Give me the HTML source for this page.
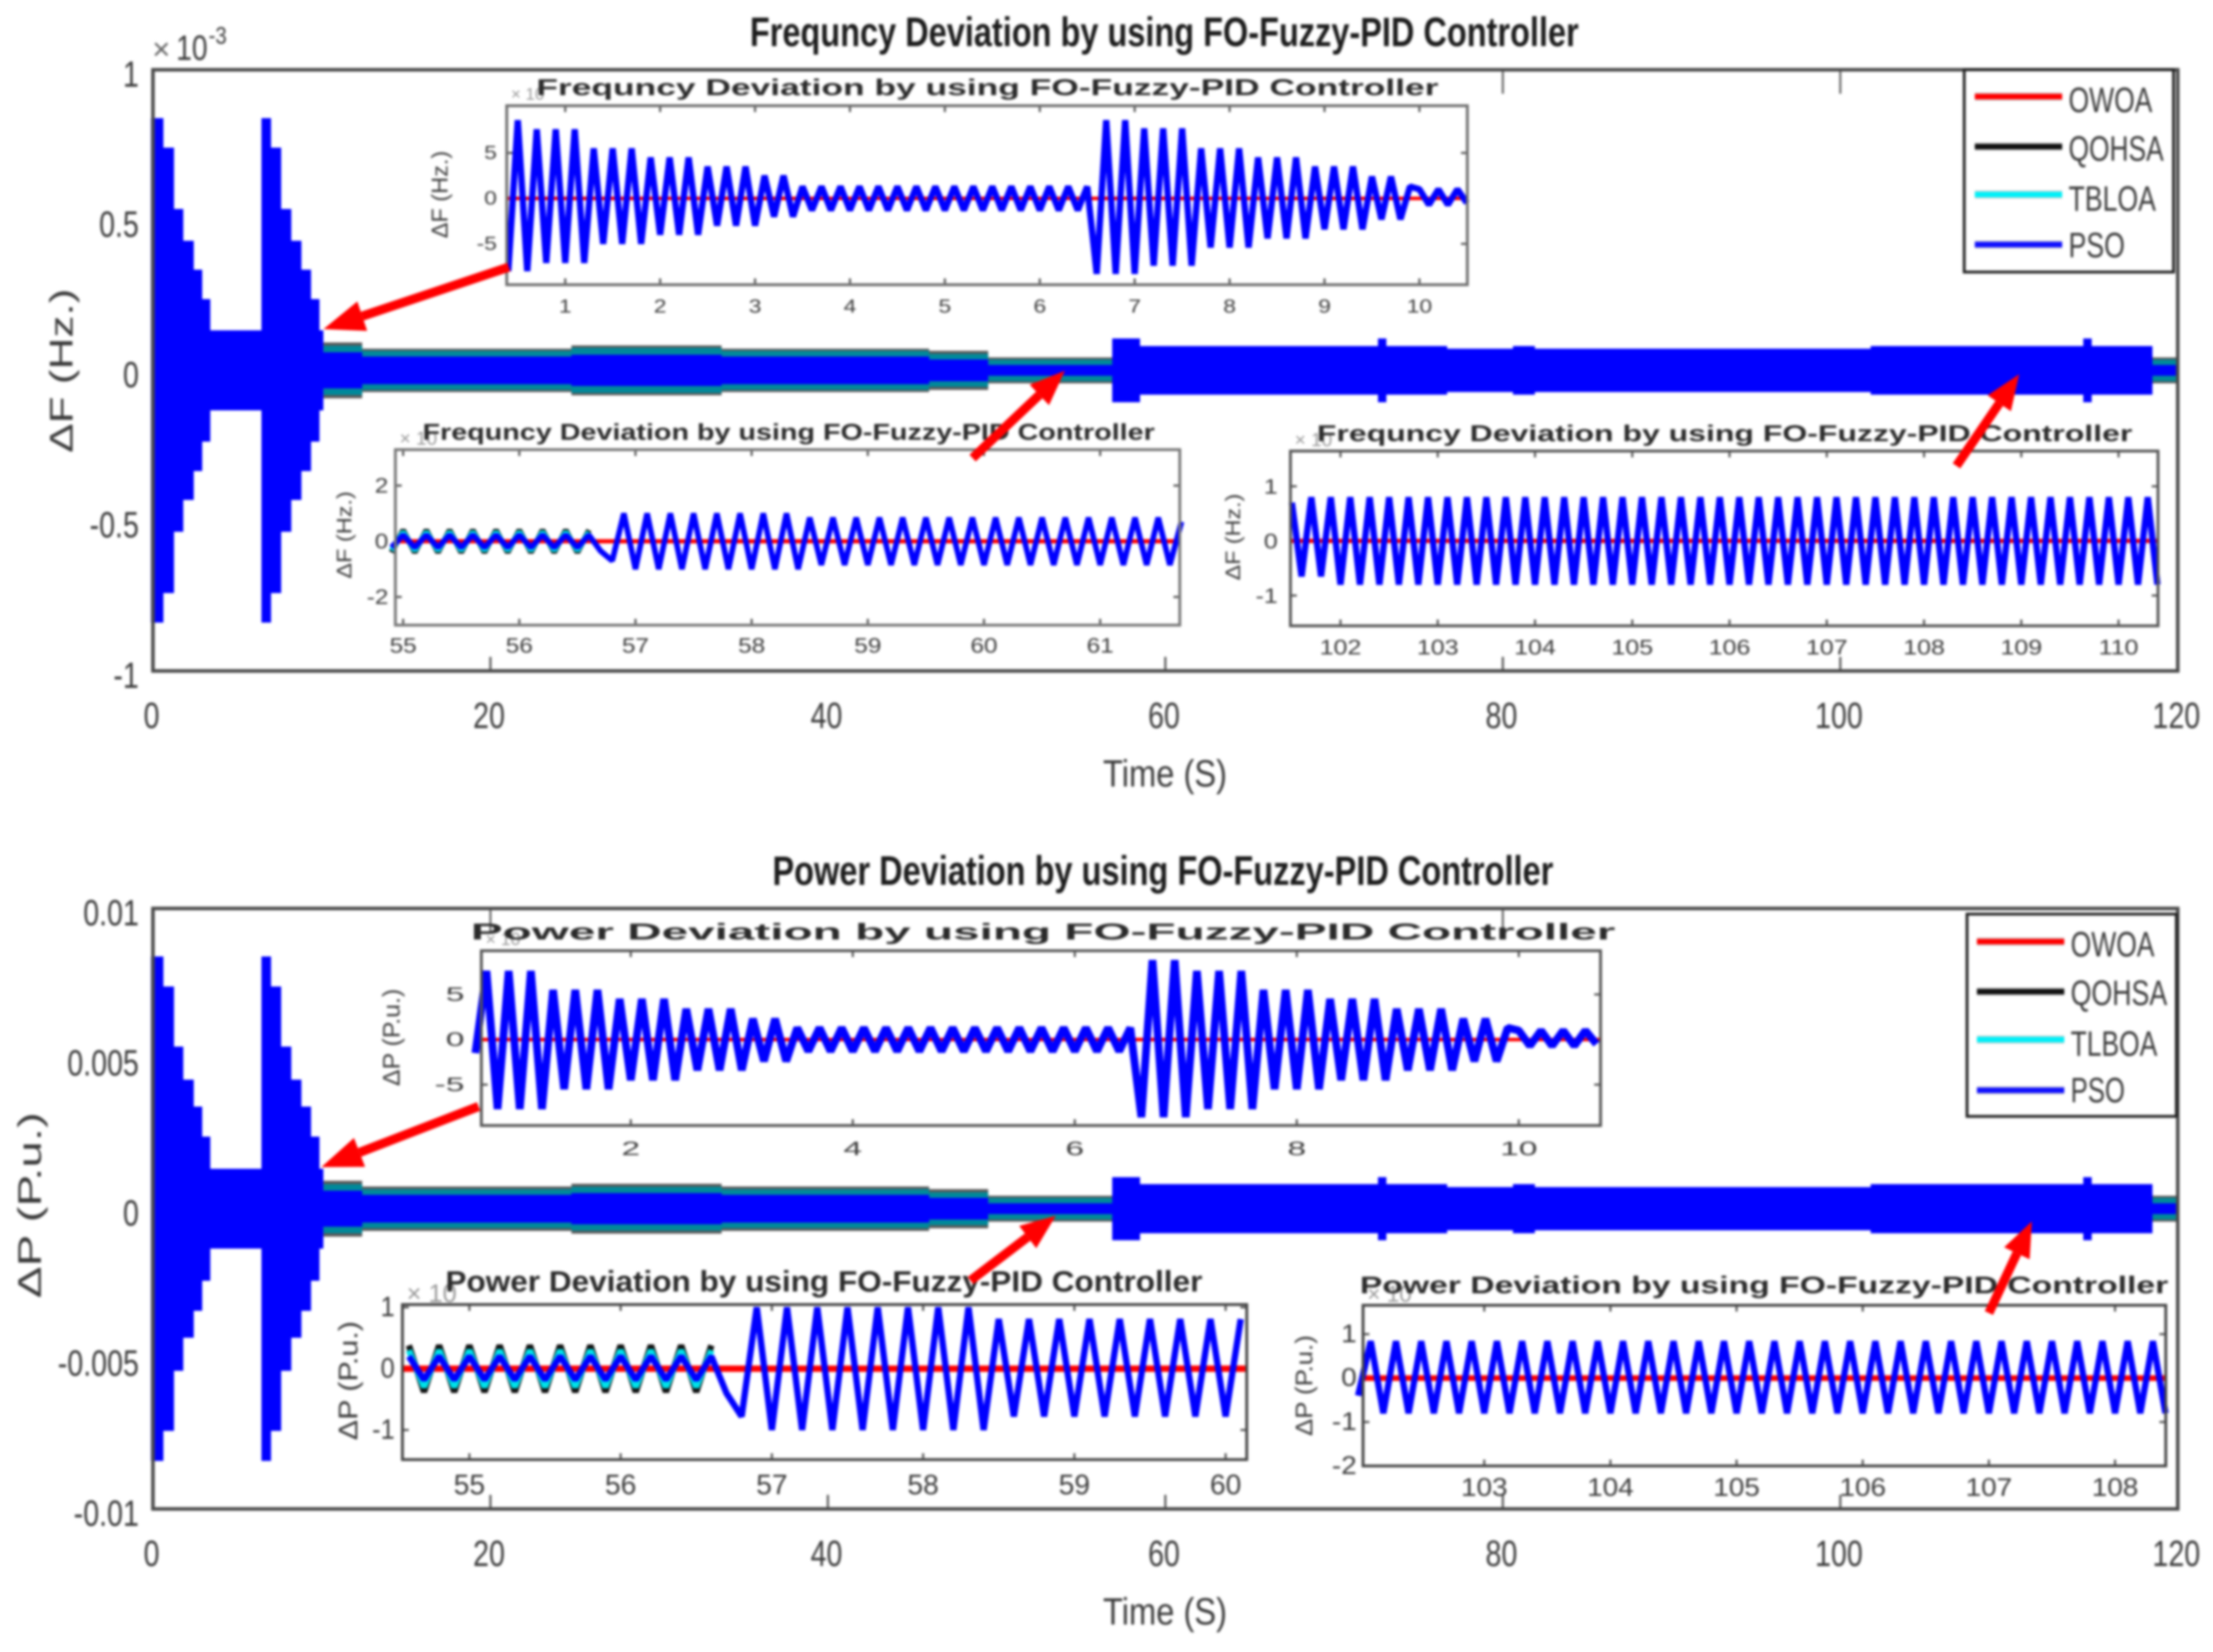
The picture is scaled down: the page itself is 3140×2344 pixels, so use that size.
<!DOCTYPE html>
<html lang="en">
<head>
<meta charset="utf-8">
<title>Frequency and Power Deviation by using FO-Fuzzy-PID Controller</title>
<style>
html,body{margin:0;padding:0;background:#fff;width:3140px;height:2344px;overflow:hidden}
svg{display:block;filter:blur(1.8px)}
text{font-family:"Liberation Sans",sans-serif;fill:#3a3a3a}
</style>
</head>
<body>
<svg id="figure" xmlns="http://www.w3.org/2000/svg" width="3140" height="2344" viewBox="0 0 3140 2344"></svg>
<script>
/* ---------- main chart data ---------- */
var mainXTicks = [0, 20, 40, 60, 80, 100, 120];
var freqYTicks = [1, 0.5, 0, -0.5, -1];
var freqYLabels = ['1', '0.5', '0', '-0.5', '-1'];
var powerYTicks = [0.01, 0.005, 0, -0.005, -0.01];
var powerYLabels = ['0.01', '0.005', '0', '-0.005', '-0.01'];
var legendFreq = ['OWOA', 'QOHSA', 'TBLOA', 'PSO'];
var legendPower = ['OWOA', 'QOHSA', 'TLBOA', 'PSO'];

/* envelope segment edges (s) shared by both main plots */
var segmentEdges = [-0.12, 0.62, 1.25, 1.8, 2.42, 2.92, 3.4, 6.43, 7.0, 7.6, 8.2, 8.8, 9.37, 9.87, 10.1, 12.4, 24.8, 33.7, 46, 49.5, 56.85, 58.5, 72.6, 73.1, 76.7, 80.6, 81.9, 101.8, 114.4, 114.9, 118.5, 120];
/* frequency envelope magnitudes, x 10^-3 Hz */
var freqPso = [0.839, 0.741, 0.537, 0.431, 0.335, 0.237, 0.133, 0.839, 0.741, 0.537, 0.431, 0.335, 0.237, 0.133, 0.06, 0.046, 0.052, 0.046, 0.036, 0.018, 0.106, 0.081, 0.106, 0.081, 0.072, 0.081, 0.072, 0.081, 0.106, 0.081, 0.018];
var freqTlboa = [0, 0, 0, 0, 0, 0, 0, 0, 0, 0, 0, 0, 0, 0, 0.082, 0.065, 0.075, 0.065, 0.055, 0.036, 0.05, 0.05, 0.05, 0.05, 0.05, 0.05, 0.05, 0.05, 0.05, 0.05, 0.036];
var freqQohsa = [0, 0, 0, 0, 0, 0, 0, 0, 0, 0, 0, 0, 0, 0, 0.093, 0.072, 0.083, 0.072, 0.065, 0.043, 0.05, 0.05, 0.05, 0.05, 0.05, 0.05, 0.05, 0.05, 0.05, 0.05, 0.043];
/* power envelope magnitudes, P.u. */
var powerPso = [0.0084, 0.0074, 0.0054, 0.0043, 0.0034, 0.0024, 0.00133, 0.0084, 0.0074, 0.0054, 0.0043, 0.0034, 0.0024, 0.00133, 0.0006, 0.00046, 0.00052, 0.00046, 0.00036, 0.00018, 0.00105, 0.00082, 0.00105, 0.00082, 0.00072, 0.00082, 0.00072, 0.00082, 0.00105, 0.00082, 0.00018];
var powerTlboa = [0, 0, 0, 0, 0, 0, 0, 0, 0, 0, 0, 0, 0, 0, 0.00082, 0.00065, 0.00073, 0.00065, 0.00055, 0.00036, 0.0005, 0.0005, 0.0005, 0.0005, 0.0005, 0.0005, 0.0005, 0.0005, 0.0005, 0.0005, 0.00036];
var powerQohsa = [0, 0, 0, 0, 0, 0, 0, 0, 0, 0, 0, 0, 0, 0, 0.00093, 0.00074, 0.00083, 0.00074, 0.00065, 0.00043, 0.0005, 0.0005, 0.0005, 0.0005, 0.0005, 0.0005, 0.0005, 0.0005, 0.0005, 0.0005, 0.00043];

/* ---------- inset data: turning points, first time + step ---------- */
var inset1aXTicks = [1, 2, 3, 4, 5, 6, 7, 8, 9, 10];
var inset1aYTicks = [5, 0, -5];
var inset1aStart = 0.4;
var inset1aStep = 0.1;
var inset1aPso = [-8, 8.6, -8, 7.6, -7.1, 7.6, -7.1, 7.6, -7.1, 5.5, -5, 5.5, -5, 5.5, -5, 4.5, -4, 4.5, -4, 4.5, -4, 3.5, -3, 3.5, -3, 3.5, -3, 2.5, -2, 2.5, -2, 1.3, -1.3, 1.3, -1.3, 1.3, -1.3, 1.3, -1.3, 1.3, -1.3, 1.3, -1.3, 1.3, -1.3, 1.3, -1.3, 1.3, -1.3, 1.3, -1.3, 1.3, -1.3, 1.3, -1.3, 1.3, -1.3, 1.3, -1.3, 1.3, -1.3, 1.3, -8.3, 8.6, -8.3, 8.6, -8.3, 7.7, -7.4, 7.7, -7.4, 7.7, -7.4, 5.5, -5.4, 5.5, -5.4, 5.5, -5.4, 4.5, -4.4, 4.5, -4.4, 4.5, -4.4, 3.5, -3.4, 3.5, -3.4, 3.5, -3.4, 2.4, -2.3, 2.4, -2.3, 1.3, 1, -0.7, 1, -0.7, 1, -0.5];

var inset1bXTicks = [55, 56, 57, 58, 59, 60, 61];
var inset1bYTicks = [2, 0, -2];
var inset1bStart = 54.9;
var inset1bStep = 0.1;
var inset1bPso = [-0.22, 0.22, -0.22, 0.22, -0.22, 0.22, -0.22, 0.22, -0.22, 0.22, -0.22, 0.22, -0.22, 0.22, -0.22, 0.22, -0.22, 0.22, -0.35, -0.7, 1, -1, 1, -1, 1, -1, 1, -1, 1, -1, 1, -1, 1, -1, 1, -1, 0.85, -0.85, 0.85, -0.85, 0.85, -0.85, 0.85, -0.85, 0.85, -0.85, 0.85, -0.85, 0.85, -0.85, 0.85, -0.85, 0.85, -0.85, 0.85, -0.85, 0.85, -0.85, 0.85, -0.85, 0.85, -0.85, 0.85, -0.85, 0.85, -0.85, 0.85, -0.85, 0.7];
var inset1bTlboa = [-0.33, 0.33, -0.33, 0.33, -0.33, 0.33, -0.33, 0.33, -0.33, 0.33, -0.33, 0.33, -0.33, 0.33, -0.33, 0.33, -0.33, 0.33];
var inset1bQohsa = [-0.4, 0.4, -0.4, 0.4, -0.4, 0.4, -0.4, 0.4, -0.4, 0.4, -0.4, 0.4, -0.4, 0.4, -0.4, 0.4, -0.4, 0.4];

var inset1cXTicks = [102, 103, 104, 105, 106, 107, 108, 109, 110];
var inset1cYTicks = [1, 0, -1];
var inset1cStart = 101.5;
var inset1cStep = 0.1;
var inset1cPso = [0.7, -0.65, 0.8, -0.65, 0.8, -0.8, 0.8, -0.8, 0.8, -0.8, 0.8, -0.8, 0.8, -0.8, 0.8, -0.8, 0.8, -0.8, 0.8, -0.8, 0.8, -0.8, 0.8, -0.8, 0.8, -0.8, 0.8, -0.8, 0.8, -0.8, 0.8, -0.8, 0.8, -0.8, 0.8, -0.8, 0.8, -0.8, 0.8, -0.8, 0.8, -0.8, 0.8, -0.8, 0.8, -0.8, 0.8, -0.8, 0.8, -0.8, 0.8, -0.8, 0.8, -0.8, 0.8, -0.8, 0.8, -0.8, 0.8, -0.8, 0.8, -0.8, 0.8, -0.8, 0.8, -0.8, 0.8, -0.8, 0.8, -0.8, 0.8, -0.8, 0.8, -0.8, 0.8, -0.8, 0.8, -0.8, 0.8, -0.8, 0.8, -0.8, 0.8, -0.8, 0.8, -0.8, 0.8, -0.8, 0.8, -0.8];

var inset2aXTicks = [2, 4, 6, 8, 10];
var inset2aYTicks = [5, 0, -5];
var inset2aStart = 0.6;
var inset2aStep = 0.1;
var inset2aPso = [-1.5, 7.6, -7.7, 7.6, -7.7, 7.6, -7.7, 5.5, -5.5, 5.5, -5.5, 5.5, -5.5, 4.5, -4.5, 4.5, -4.5, 4.5, -4.5, 3.4, -3.4, 3.4, -3.4, 3.4, -3.4, 2.3, -2.4, 2.3, -2.4, 1.3, -1.3, 1.3, -1.3, 1.3, -1.3, 1.3, -1.3, 1.3, -1.3, 1.3, -1.3, 1.3, -1.3, 1.3, -1.3, 1.3, -1.3, 1.3, -1.3, 1.3, -1.3, 1.3, -1.3, 1.3, -1.3, 1.3, -1.3, 1.3, -1.3, 1.3, -8.6, 8.8, -8.6, 8.8, -8.6, 7.6, -7.7, 7.6, -7.7, 7.6, -7.7, 5.5, -5.5, 5.5, -5.5, 5.5, -5.5, 4.5, -4.5, 4.5, -4.5, 4.5, -4.5, 3.4, -3.4, 3.4, -3.4, 3.4, -3.4, 2.3, -2.4, 2.3, -2.4, 1.3, 1, -0.7, 1, -0.7, 1, -0.7, 1, -0.5];

var inset2bXTicks = [55, 56, 57, 58, 59, 60];
var inset2bYTicks = [1, 0, -1];
var inset2bStart = 54.6;
var inset2bStep = 0.1;
var inset2bPso = [0.2, -0.18, 0.2, -0.18, 0.2, -0.18, 0.2, -0.18, 0.2, -0.18, 0.2, -0.18, 0.2, -0.18, 0.2, -0.18, 0.2, -0.18, 0.2, -0.18, 0.2, -0.4, -0.78, 1, -1, 1, -1, 1, -1, 1, -1, 1, -1, 1, -1, 1, -1, 1, -1, 0.81, -0.78, 0.81, -0.78, 0.81, -0.78, 0.81, -0.78, 0.81, -0.78, 0.81, -0.78, 0.81, -0.78, 0.81, -0.78, 0.81];
var inset2bTlboa = [0.3, -0.3, 0.3, -0.3, 0.3, -0.3, 0.3, -0.3, 0.3, -0.3, 0.3, -0.3, 0.3, -0.3, 0.3, -0.3, 0.3, -0.3, 0.3, -0.3, 0.3];
var inset2bQohsa = [0.38, -0.38, 0.38, -0.38, 0.38, -0.38, 0.38, -0.38, 0.38, -0.38, 0.38, -0.38, 0.38, -0.38, 0.38, -0.38, 0.38, -0.38, 0.38, -0.38, 0.38];

var inset2cXTicks = [103, 104, 105, 106, 107, 108];
var inset2cYTicks = [1, 0, -1, -2];
var inset2cStart = 102.0;
var inset2cStep = 0.1;
var inset2cPso = [-0.4, 0.84, -0.8, 0.84, -0.8, 0.84, -0.8, 0.84, -0.8, 0.84, -0.8, 0.84, -0.8, 0.84, -0.8, 0.84, -0.8, 0.84, -0.8, 0.84, -0.8, 0.84, -0.8, 0.84, -0.8, 0.84, -0.8, 0.84, -0.8, 0.84, -0.8, 0.84, -0.8, 0.84, -0.8, 0.84, -0.8, 0.84, -0.8, 0.84, -0.8, 0.84, -0.8, 0.84, -0.8, 0.84, -0.8, 0.84, -0.8, 0.84, -0.8, 0.84, -0.8, 0.84, -0.8, 0.84, -0.8, 0.84, -0.8, 0.84, -0.8, 0.84, -0.8, 0.84, -0.8];

/* ---------- drawing helpers ---------- */
var SVGNS = 'http://www.w3.org/2000/svg';
var root = document.getElementById('figure');

function make(tag, attrs, parent) {
  var el = document.createElementNS(SVGNS, tag);
  for (var k in attrs) { el.setAttribute(k, attrs[k]); }
  (parent || root).appendChild(el);
  return el;
}
function tag(el, name) {
  
  
  return el;
}
function linear(d0, d1, r0, r1) {
  return function (v) { return r0 + (v - d0) * (r1 - r0) / (d1 - d0); };
}
function text(parent, name, str, x, y, size, opts) {
  opts = opts || {};
  var sx = opts.sx || 1;
  var rot = opts.rot ? ' rotate(' + opts.rot + ')' : '';
  var attrs = {
    transform: 'translate(' + x + ',' + y + ')' + rot + ' scale(' + sx + ',1)',
    'font-size': size,
    'text-anchor': opts.anchor || 'middle',
    'dominant-baseline': 'central'
  };
  if (opts.bold) { attrs['font-weight'] = 'bold'; }
  if (opts.fill) { attrs['style'] = 'fill:' + opts.fill; }
  if (opts.width) {
    attrs['textLength'] = opts.width;
    attrs['lengthAdjust'] = 'spacingAndGlyphs';
  }
  var t = make('text', attrs, parent);
  t.textContent = str;
  tag(t, name);
  return t;
}
function envelope(parent, name, edges, mags, fill, xs, ys, zero) {
  var top = '', bottom = '';
  for (var i = 0; i < mags.length; i++) {
    top += xs(edges[i]) + ',' + ys(zero + mags[i]) + ' ' + xs(edges[i + 1]) + ',' + ys(zero + mags[i]) + ' ';
    bottom = xs(edges[i + 1]) + ',' + ys(zero - mags[i]) + ' ' + xs(edges[i]) + ',' + ys(zero - mags[i]) + ' ' + bottom;
  }
  var p = make('polygon', { points: top + bottom, fill: fill }, parent);
  tag(p, name);
  return p;
}
function series(parent, name, start, step, values, color, width, xs, ys) {
  var pts = '';
  for (var i = 0; i < values.length; i++) {
    pts += xs(start + i * step) + ',' + ys(values[i]) + ' ';
  }
  var p = make('polyline', { points: pts, fill: 'none', stroke: color, 'stroke-width': width, 'stroke-linejoin': 'bevel' }, parent);
  tag(p, name);
  return p;
}
function line(parent, name, x1, y1, x2, y2, color, width) {
  var l = make('line', { x1: x1, y1: y1, x2: x2, y2: y2, stroke: color, 'stroke-width': width }, parent);
  tag(l, name);
  return l;
}
function arrow(name, x1, y1, x2, y2, width, headLen, headWidth) {
  var g = make('g', {});
  tag(g, name);
  var dx = x2 - x1, dy = y2 - y1, len = Math.sqrt(dx * dx + dy * dy);
  var ux = dx / len, uy = dy / len, bx = x2 - ux * headLen, by = y2 - uy * headLen;
  line(g, name + '-shaft', x1, y1, bx, by, '#ff0000', width);
  var head = make('polygon', {
    points: x2 + ',' + y2 + ' ' + (bx - uy * headWidth / 2) + ',' + (by + ux * headWidth / 2) + ' ' + (bx + uy * headWidth / 2) + ',' + (by - ux * headWidth / 2),
    fill: '#ff0000'
  }, g);
  tag(head, name + '-head');
}

/* ---------- main plot ---------- */
function drawMain(o) {
  var g = make('g', {});
  tag(g, o.id + '-plot');
  var xs = linear(0, 120, 217, 3090);
  var ys = linear(o.yMax, -o.yMax, o.top, o.bottom);

  o.topTicks.forEach(function (t) {
    line(g, o.id + '-top-tick', xs(t), o.top, xs(t), o.top + 34, '#666', 3);
  });
  o.bottomTicks.forEach(function (t) {
    line(g, o.id + '-bottom-tick', xs(t), o.bottom, xs(t), o.bottom - 20, '#555', 3);
  });

  envelope(g, o.id + '-qohsa-envelope', segmentEdges, o.qohsa, '#5a5a5a', xs, ys, 0);
  envelope(g, o.id + '-tlboa-envelope', segmentEdges, o.tlboa, '#00899a', xs, ys, 0);
  envelope(g, o.id + '-pso-envelope', segmentEdges, o.pso, '#0000ff', xs, ys, 0);

  var frame = make('rect', { x: 217, y: o.top, width: 2873, height: o.bottom - o.top, fill: 'none', stroke: '#4a4a4a', 'stroke-width': 5 }, g);
  tag(frame, o.id + '-axes-frame');

  mainXTicks.forEach(function (t) {
    text(g, o.id + '-x-tick-label', String(t), xs(t) - 2, o.bottom + 63, 52, { sx: 0.78 });
  });
  o.yTicks.forEach(function (v, i) {
    text(g, o.id + '-y-tick-label', o.yLabels[i], 197, ys(v) + 6, 52, { sx: 0.78, anchor: 'end' });
  });
  text(g, o.id + '-x-axis-title', 'Time (S)', 1653, o.bottom + 146, 54, { width: 176 });
  text(g, o.id + '-y-axis-title', o.yTitle, o.yTitleX, o.yTitleY, 46, { rot: -90, width: o.yTitleW });
  text(g, o.id + '-title', o.title, o.titleX, o.titleY, 58, { bold: true, width: o.titleW, fill: '#1c1c1c' });
}

/* ---------- inset ---------- */
function drawInset(o) {
  var g = make('g', {});
  tag(g, o.id + '-inset');
  var xs = linear(o.dx[0], o.dx[1], o.rx[0], o.rx[1]);
  var ys = linear(o.dy[0], o.dy[1], o.ry[0], o.ry[1]);
  var bg = make('rect', { x: o.x0, y: o.y0, width: o.x1 - o.x0, height: o.y1 - o.y0, fill: '#fff' }, g);
  tag(bg, o.id + '-background');

  o.xTicks.forEach(function (t) {
    line(g, o.id + '-x-tick', xs(t), o.y1, xs(t), o.y1 - 9, '#555', 3);
    line(g, o.id + '-x-tick-top', xs(t), o.y0, xs(t), o.y0 + 9, '#555', 3);
    text(g, o.id + '-x-tick-label', String(t), xs(t), o.xLabelY, o.fs, { sx: o.sx });
  });
  o.yTicks.forEach(function (v) {
    line(g, o.id + '-y-tick', o.x0, ys(v), o.x0 + 9, ys(v), '#555', 3);
    line(g, o.id + '-y-tick-right', o.x1, ys(v), o.x1 - 9, ys(v), '#555', 3);
    text(g, o.id + '-y-tick-label', String(v), o.yLabelX, ys(v), o.fs, { sx: o.sxY || o.sx, anchor: 'end' });
  });

  var red = line(g, o.id + '-owoa-line', xs(o.dxStart), ys(0), xs(o.dxEnd), ys(0), '#ff0000', o.redW);
  red.setAttribute('stroke-linecap', 'butt');
  if (o.qohsa) { series(g, o.id + '-qohsa-line', o.start, o.step, o.qohsa, '#111111', o.lw, xs, ys); }
  if (o.tlboa) { series(g, o.id + '-tlboa-line', o.start, o.step, o.tlboa, '#00e0e8', o.lw, xs, ys); }
  series(g, o.id + '-pso-line', o.start, o.step, o.pso, '#0000ff', o.lw, xs, ys);

  var frame = make('rect', { x: o.x0, y: o.y0, width: o.x1 - o.x0, height: o.y1 - o.y0, fill: 'none', stroke: o.frame, 'stroke-width': 4 }, g);
  tag(frame, o.id + '-frame');

  text(g, o.id + '-exponent', '\u00d7 10', o.x0 + 6, o.y0 - 16, Math.round(o.fs * 0.9), { anchor: 'start', fill: '#999' });
  text(g, o.id + '-y-axis-title', o.yTitle, o.yTitleX, o.yTitleY, o.yTitleSize, { rot: -90, width: o.yTitleW });
  text(g, o.id + '-title', o.title, o.titleX, o.titleY, o.titleSize, { bold: true, width: o.titleW, fill: '#2a2a2a' });
}

/* ---------- legend ---------- */
function drawLegend(id, names, box, lineX, lineYs, textX, textYs, textWs) {
  var g = make('g', {});
  tag(g, id);
  var r = make('rect', { x: box[0], y: box[1], width: box[2] - box[0], height: box[3] - box[1], fill: '#fff', stroke: '#222', 'stroke-width': 4 }, g);
  tag(r, id + '-box');
  var colors = ['#ff0000', '#111111', '#00f0f8', '#1010ff'];
  names.forEach(function (n, i) {
    var halo = line(g, id + '-swatch-halo', lineX[0], lineYs[i], lineX[1], lineYs[i], '#bbbbbb', 12);
    halo.setAttribute('opacity', '0.6');
    line(g, id + '-swatch-' + n.toLowerCase(), lineX[0], lineYs[i], lineX[1], lineYs[i], colors[i], 8);
    text(g, id + '-label-' + n.toLowerCase(), n, textX, textYs[i], 50, { anchor: 'start', width: textWs[i] });
  });
}

var freqTitle = 'Frequncy Deviation by using FO-Fuzzy-PID Controller';
var powerTitle = 'Power Deviation by using FO-Fuzzy-PID Controller';

drawMain({
  id: 'frequency', top: 99, bottom: 952, yMax: 1, pso: freqPso, tlboa: freqTlboa, qohsa: freqQohsa,
  yTicks: freqYTicks, yLabels: freqYLabels, yTitle: '\u0394F (Hz.)', yTitleX: 87, yTitleY: 526, yTitleW: 233,
  title: freqTitle, titleX: 1652, titleY: 46, titleW: 1176, topTicks: [80, 100], bottomTicks: [20, 60, 80, 100]
});
drawMain({
  id: 'power', top: 1289, bottom: 2141, yMax: 0.01, pso: powerPso, tlboa: powerTlboa, qohsa: powerQohsa,
  yTicks: powerYTicks, yLabels: powerYLabels, yTitle: '\u0394P  (P.u.)', yTitleX: 42, yTitleY: 1710, yTitleW: 264,
  title: powerTitle, titleX: 1650, titleY: 1236, titleW: 1108, topTicks: [20, 80], bottomTicks: [20, 40, 60, 80, 100]
});

var expF = make('g', {});
tag(expF, 'frequency-exponent');
text(expF, 'exponent-times', '\u00d7', 216, 70, 44, { anchor: 'start', fill: '#666' });
text(expF, 'exponent-base', '10', 250, 68, 50, { anchor: 'start', sx: 0.8 });
text(expF, 'exponent-power', '-3', 296, 50, 34, { anchor: 'start', sx: 0.85 });

drawInset({
  id: 'freq-early', x0: 719, x1: 2082, y0: 150, y1: 404, dx: [1, 10], rx: [802, 2014], dy: [5, -5], ry: [217, 346],
  xTicks: inset1aXTicks, yTicks: inset1aYTicks, start: inset1aStart, step: inset1aStep, pso: inset1aPso,
  dxStart: 0.38, dxEnd: 10.5, lw: 9, redW: 5, frame: '#6e6e6e', fs: 27, sx: 1.2, xLabelY: 435, yLabelX: 705,
  yTitle: '\u0394F (Hz.)', yTitleX: 624, yTitleY: 276, yTitleW: 124, yTitleSize: 32,
  title: freqTitle, titleX: 1401, titleY: 124, titleW: 1280, titleSize: 32
});
drawInset({
  id: 'freq-mid', x0: 561, x1: 1674, y0: 638, y1: 887, dx: [55, 61], rx: [572, 1561], dy: [2, -2], ry: [689, 847],
  xTicks: inset1bXTicks, yTicks: inset1bYTicks, start: inset1bStart, step: inset1bStep, pso: inset1bPso, tlboa: inset1bTlboa, qohsa: inset1bQohsa,
  dxStart: 54.93, dxEnd: 61.69, lw: 8, redW: 6, frame: '#777', fs: 30, sx: 1.15, xLabelY: 916, yLabelX: 551,
  yTitle: '\u0394F (Hz.)', yTitleX: 489, yTitleY: 759, yTitleW: 124, yTitleSize: 30,
  title: freqTitle, titleX: 1119, titleY: 613, titleW: 1039, titleSize: 32
});
drawInset({
  id: 'freq-late', x0: 1831, x1: 3062, y0: 640, y1: 888, dx: [102, 110], rx: [1902, 3006], dy: [1, -1], ry: [690, 845],
  xTicks: inset1cXTicks, yTicks: inset1cYTicks, start: inset1cStart, step: inset1cStep, pso: inset1cPso,
  dxStart: 101.5, dxEnd: 110.4, lw: 9, redW: 6, frame: '#555', fs: 30, sx: 1.18, xLabelY: 918, yLabelX: 1813,
  yTitle: '\u0394F (Hz.)', yTitleX: 1750, yTitleY: 762, yTitleW: 123, yTitleSize: 30,
  title: freqTitle, titleX: 2447, titleY: 615, titleW: 1157, titleSize: 32
});
drawInset({
  id: 'power-early', x0: 683, x1: 2271, y0: 1349, y1: 1597, dx: [2, 10], rx: [895, 2155], dy: [5, -5], ry: [1411, 1539],
  xTicks: inset2aXTicks, yTicks: inset2aYTicks, start: inset2aStart, step: inset2aStep, pso: inset2aPso,
  dxStart: 0.65, dxEnd: 10.74, lw: 11, redW: 5, frame: '#555', fs: 28, sx: 1.7, xLabelY: 1630, yLabelX: 659,
  yTitle: '\u0394P (P.u.)', yTitleX: 556, yTitleY: 1472, yTitleW: 138, yTitleSize: 34,
  title: powerTitle, titleX: 1480, titleY: 1322, titleW: 1624, titleSize: 32
});
drawInset({
  id: 'power-mid', x0: 571, x1: 1769, y0: 1851, y1: 2071, dx: [55, 60], rx: [666, 1739], dy: [1, -1], ry: [1855, 2029],
  xTicks: inset2bXTicks, yTicks: inset2bYTicks, start: inset2bStart, step: inset2bStep, pso: inset2bPso, tlboa: inset2bTlboa, qohsa: inset2bQohsa,
  dxStart: 54.56, dxEnd: 60.13, lw: 9, redW: 9, frame: '#444', fs: 40, sx: 1, sxY: 0.9, xLabelY: 2107, yLabelX: 560,
  yTitle: '\u0394P (P.u.)', yTitleX: 495, yTitleY: 1959, yTitleW: 169, yTitleSize: 38,
  title: powerTitle, titleX: 1169, titleY: 1818, titleW: 1074, titleSize: 42
});
drawInset({
  id: 'power-late', x0: 1934, x1: 3073, y0: 1852, y1: 2080, dx: [103, 108], rx: [2106, 3001], dy: [1, -2], ry: [1893, 2080],
  xTicks: inset2cXTicks, yTicks: inset2cYTicks, start: inset2cStart, step: inset2cStep, pso: inset2cPso,
  dxStart: 102.04, dxEnd: 108.4, lw: 9, redW: 8, frame: '#444', fs: 36, sx: 1.1, xLabelY: 2111, yLabelX: 1925,
  yTitle: '\u0394P (P.u.)', yTitleX: 1851, yTitleY: 1966, yTitleW: 143, yTitleSize: 34,
  title: powerTitle, titleX: 2503, titleY: 1824, titleW: 1147, titleSize: 34
});

drawLegend('frequency-legend', legendFreq, [2787, 99, 3084, 386], [2802, 2926], [137, 208, 276, 347], 2935, [142, 211, 282, 348], [119, 135, 124, 80]);
drawLegend('power-legend', legendPower, [2791, 1297, 3088, 1584], [2805, 2929], [1336, 1407, 1475, 1547], 2938, [1340, 1409, 1481, 1547], [119, 137, 123, 77]);

arrow('arrow-freq-early', 722, 379, 459, 467, 13, 58, 44);
arrow('arrow-freq-mid', 1380, 650, 1511, 526, 13, 50, 40);
arrow('arrow-freq-late', 2776, 661, 2865, 531, 13, 50, 40);
arrow('arrow-power-early', 679, 1570, 456, 1656, 13, 58, 44);
arrow('arrow-power-mid', 1377, 1817, 1498, 1725, 13, 50, 40);
arrow('arrow-power-late', 2822, 1863, 2883, 1733, 13, 50, 40);
</script>
</body>
</html>
